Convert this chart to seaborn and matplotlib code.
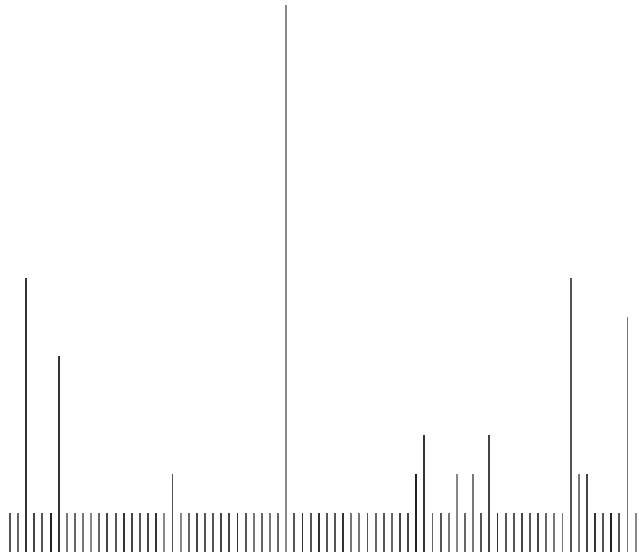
import numpy as np
import pandas as pd
import matplotlib
matplotlib.use("Agg")
import matplotlib.pyplot as plt
import seaborn as sns

# ==========================================
# Data
# ==========================================

n_bars = 78
positions = list(range(n_bars))

# most bars have count 1, a few are taller
tall_bars = {2: 7, 6: 5, 20: 2, 34: 14, 50: 2, 51: 3, 55: 2, 57: 2,
             59: 3, 69: 7, 70: 2, 71: 2, 76: 6}
counts = [tall_bars.get(i, 1) for i in positions]

gray_levels = [
    "#555", "#666", "#333", "#444", "#555", "#222", "#333", "#777", "#666", "#777",
    "#888", "#666", "#444", "#555", "#333", "#444", "#555", "#444", "#333", "#888",
    "#555", "#888", "#666", "#444", "#555", "#555", "#444", "#444", "#333", "#555",
    "#777", "#666", "#777", "#666", "#888", "#555", "#333", "#555", "#333", "#555",
    "#555", "#333", "#777", "#777", "#555", "#666", "#555", "#666", "#444", "#444",
    "#222", "#333", "#666", "#555", "#777", "#888", "#666", "#777", "#555", "#444",
    "#333", "#555", "#555", "#444", "#555", "#444", "#666", "#777", "#777", "#555",
    "#777", "#444", "#333", "#555", "#222", "#555", "#777", "#888",
]

df = pd.DataFrame({"pos": positions, "count": counts})

# ==========================================
# Plot
# ==========================================

fig = plt.figure(figsize=(6.39, 5.56), dpi=100)
ax = fig.add_axes([5.9 / 639, 4 / 556, 633.8 / 639, 547.5 / 556])

sns.barplot(
    data=df,
    x="pos",
    y="count",
    hue="pos",
    palette=gray_levels,
    legend=False,
    width=0.24,
    saturation=1,
    linewidth=0,
    ax=ax,
)

ax.set_xlim(-0.5, n_bars - 0.5)
ax.set_ylim(0, 14)
ax.axis("off")

fig.savefig("out.png", dpi=100)
